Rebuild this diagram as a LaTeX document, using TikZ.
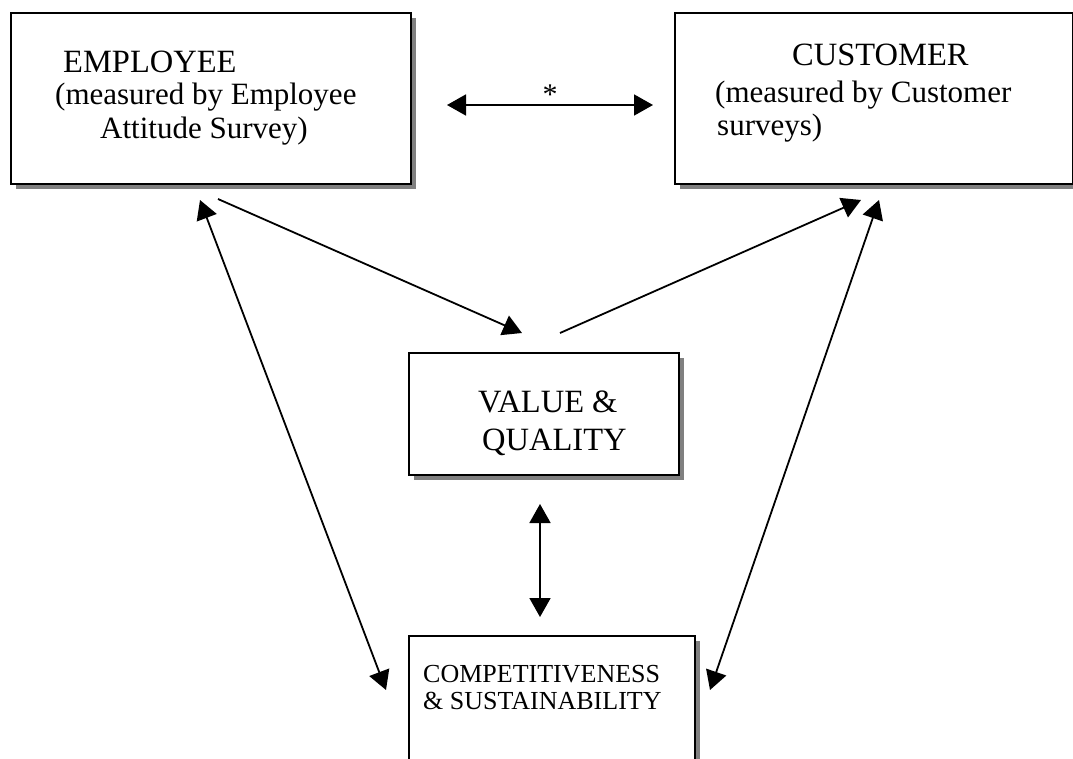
\documentclass[tikz,border=0pt]{standalone}
\usepackage{fontspec}
\setmainfont{Liberation Serif}
\usetikzlibrary{arrows.meta,shadows}
\begin{document}
\begin{tikzpicture}[x=1pt,y=-1pt,
  box/.style={draw=black, line width=2pt, fill=white, inner sep=0pt, anchor=north west,
    drop shadow={shadow xshift=5pt, shadow yshift=-5pt, fill=black!50, opacity=1}},
  big/.style={anchor=base west, inner sep=0pt, font=\fontsize{32.5}{37}\selectfont},
  mid/.style={anchor=base west, inner sep=0pt, font=\fontsize{31}{35}\selectfont},
  small/.style={anchor=base west, inner sep=0pt, font=\fontsize{26}{30}\selectfont},
  link/.style={line width=1.8pt, {Triangle[length=19pt,width=21pt]}-{Triangle[length=19pt,width=21pt]}},
  oneway/.style={line width=1.8pt, -{Triangle[length=19pt,width=21pt]}}
]
\clip (0,0) rectangle (1073,758);
% boxes
\node[box, minimum width=400pt, minimum height=171pt] (emp) at (10,12) {};
\node[box, minimum width=398pt, minimum height=171pt] (cust) at (674,12) {};
\node[box, minimum width=270pt, minimum height=122pt] (val) at (408,352) {};
\node[box, minimum width=286pt, minimum height=150pt] (comp) at (408,635) {};
% texts
\node[big] (t1) at (63,72) {EMPLOYEE};
\node[mid] (t2) at (55,104) {(measured by Employee};
\node[mid] (t3) at (100,138) {Attitude Survey)};
\node[big] (t4) at (792,65) {CUSTOMER};
\node[mid] (t5) at (715,102) {(measured by Customer};
\node[mid] (t6) at (717,135) {surveys)};
\node[big] (t7) at (478,412) {VALUE \&};
\node[big] (t8) at (482,450) {QUALITY};
\node[small] (t9) at (423,682) {COMPETITIVENESS};
\node[small] (t10) at (423,709) {\& SUSTAINABILITY};
% connector end points
\coordinate (h1) at (447,105);
\coordinate (h2) at (653,105);
\coordinate (ev1) at (218,199);
\coordinate (ev2) at (522,333);
\coordinate (vc1) at (560,333);
\coordinate (vc2) at (861,200);
\coordinate (ec1) at (200,200);
\coordinate (ec2) at (386,690);
\coordinate (cc1) at (879,200);
\coordinate (cc2) at (710,690);
\coordinate (vv1) at (540,504);
\coordinate (vv2) at (540,617);
% connectors
\draw[link] (h1) -- node[above=0pt, inner sep=0pt, font=\fontsize{30}{34}\selectfont] (star) {*} (h2);
\draw[oneway] (ev1) -- (ev2);
\draw[oneway] (vc1) -- (vc2);
\draw[link] (ec1) -- (ec2);
\draw[link] (cc1) -- (cc2);
\draw[link] (vv1) -- (vv2);
\end{tikzpicture}
\end{document}
